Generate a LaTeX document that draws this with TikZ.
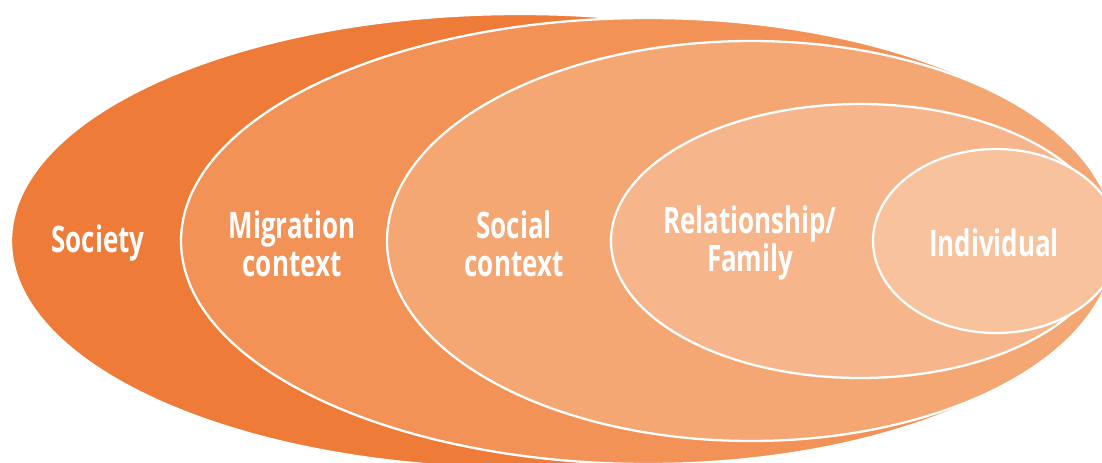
\documentclass[tikz,border=0pt]{standalone}
\usepackage{fontspec}
\setmainfont{Open Sans}[FakeStretch=0.71]
\usepackage{xcolor}
\usepackage{tikz}

\definecolor{colSociety}{HTML}{EE7C38}
\definecolor{colMigration}{HTML}{F29257}
\definecolor{colSocial}{HTML}{F4A673}
\definecolor{colFamily}{HTML}{F6B58A}
\definecolor{colIndividual}{HTML}{F8C29D}

\begin{document}
\begin{tikzpicture}[x=0.02cm,y=-0.02cm,
        lbl/.style={text=white,font=\bfseries\fontsize{20.8}{21.5}\selectfont,align=center,inner sep=0pt}]
            \useasboundingbox (0,0) rectangle (1102,463);
            \clip (0,0) rectangle (1102,463);
            \foreach \cx/\rx/\ry/\col in {520/509/227/colSociety,648/467/223/colMigration,751/364/200/colSocial,860/249/137/colFamily,996/123/92/colIndividual} {
                    \filldraw[fill=\col, draw=white, line width=1.3pt] (\cx,241) ellipse [x radius=\rx, y radius=\ry];
                }

            \node[lbl] (society) at (98,243) {Society};
            \node[lbl] (migration) at (292,244) {Migration\\context};
            \node[lbl] (social) at (514,244) {Social\\context};
            \node[lbl] (family) at (750,243) {Relationship/\\Family};
            \node[lbl] (individual) at (994,243) {Individual};

        \end{tikzpicture}
\end{document}
